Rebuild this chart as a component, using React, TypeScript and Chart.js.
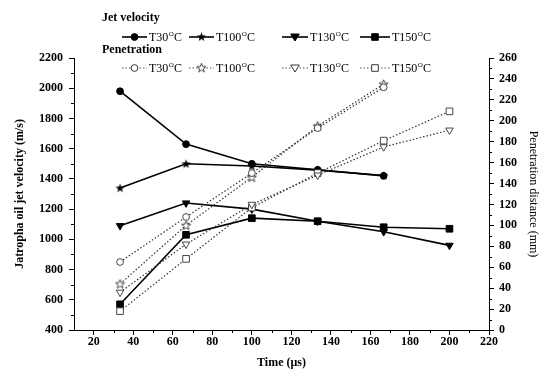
import React, { useEffect, useRef } from "react";
import { Chart, registerables } from "chart.js";

Chart.register(...registerables);

// ---------- data ----------
const times = [33.3, 66.7, 100, 133.3, 166.7, 200];
const seriesLabels = ["T30", "T100", "T130", "T150"];

const velT30 = [1980, 1630, 1500, 1460, 1420, null];
const velT100 = [1340, 1500, 1485, 1458, 1422, null];
const velT130 = [1090, 1240, 1200, 1120, 1050, 960];
const velT150 = [570, 1030, 1140, 1120, 1080, 1070];

const penT30 = [65, 108, 150, 193, 232, null];
const penT100 = [44, 100, 146, 195, 235, null];
const penT130 = [36, 82, 120, 148, 175, 191];
const penT150 = [18, 68, 117, 150, 181, 209];

const xTickValues = [20, 40, 60, 80, 100, 120, 140, 160, 180, 200, 220];
const leftTickValues = [400, 600, 800, 1000, 1200, 1400, 1600, 1800, 2000, 2200];
const rightTickValues = [0, 20, 40, 60, 80, 100, 120, 140, 160, 180, 200, 220, 240, 260];

const FONT = '"Liberation Serif", "Times New Roman", serif';

type Shape = "circle" | "star" | "triangleDown" | "square";
const shapes: Shape[] = ["circle", "star", "triangleDown", "square"];

function makeStar(filled: boolean): HTMLCanvasElement {
  const c = document.createElement("canvas");
  c.width = 11;
  c.height = 11;
  const g = c.getContext("2d")!;
  const cx = 5.5, cy = 5.8, ro = 4.8, ri = 2.0;
  g.beginPath();
  for (let i = 0; i < 10; i++) {
    const r = i % 2 === 0 ? ro : ri;
    const a = -Math.PI / 2 + (i * Math.PI) / 5;
    const px = cx + r * Math.cos(a);
    const py = cy + r * Math.sin(a);
    if (i === 0) g.moveTo(px, py);
    else g.lineTo(px, py);
  }
  g.closePath();
  if (filled) {
    g.fillStyle = "#000";
    g.fill();
  } else {
    g.fillStyle = "#fff";
    g.fill();
    g.strokeStyle = "#333";
    g.lineWidth = 0.9;
    g.stroke();
  }
  return c;
}

function toPoints(vals: (number | null)[]) {
  const out: { x: number; y: number }[] = [];
  vals.forEach((v, i) => {
    if (v !== null) out.push({ x: times[i], y: v });
  });
  return out;
}

function drawMarker(ctx: CanvasRenderingContext2D, shape: Shape, x: number, y: number, filled: boolean, starImg: HTMLCanvasElement) {
  ctx.save();
  ctx.fillStyle = filled ? "#000" : "#fff";
  ctx.strokeStyle = filled ? "#000" : "#222";
  ctx.lineWidth = filled ? 1 : 0.9;
  ctx.setLineDash([]);
  ctx.beginPath();
  if (shape === "circle") {
    ctx.arc(x, y, 3.4, 0, Math.PI * 2);
  } else if (shape === "square") {
    ctx.rect(x - 3.3, y - 3.3, 6.6, 6.6);
  } else if (shape === "triangleDown") {
    ctx.moveTo(x - 4.3, y - 3);
    ctx.lineTo(x + 4.3, y - 3);
    ctx.lineTo(x, y + 4);
    ctx.closePath();
  } else {
    ctx.drawImage(starImg, x - 5.5, y - 5.8);
    ctx.restore();
    return;
  }
  ctx.fill();
  ctx.stroke();
  ctx.restore();
}

function drawDegreeLabel(ctx: CanvasRenderingContext2D, x: number, y: number, base: string) {
  ctx.save();
  ctx.fillStyle = "#000";
  ctx.textBaseline = "middle";
  ctx.textAlign = "left";
  ctx.font = `12px ${FONT}`;
  ctx.fillText(base, x, y + 1);
  let w = ctx.measureText(base).width;
  ctx.font = `7px ${FONT}`;
  ctx.fillText("O", x + w + 0.5, y - 3);
  w += ctx.measureText("O").width + 0.5;
  ctx.font = `12px ${FONT}`;
  ctx.fillText("C", x + w, y + 1);
  ctx.restore();
}

export default function App() {
  const ref = useRef<HTMLCanvasElement | null>(null);

  useEffect(() => {
    if (!ref.current) return;
    const starFilled = makeStar(true);
    const starOpen = makeStar(false);

    const velSeries = [velT30, velT100, velT130, velT150];
    const penSeries = [penT30, penT100, penT130, penT150];

    const pointStyleFor = (s: Shape, filled: boolean): any =>
      s === "circle" ? "circle" : s === "square" ? "rect" : s === "triangleDown" ? "triangle" : filled ? starFilled : starOpen;
    const radiusFor = (s: Shape) => (s === "circle" ? 3.4 : s === "square" ? 4.7 : s === "triangleDown" ? 4.3 : 5);

    const datasets: any[] = [];
    penSeries.forEach((vals, i) => {
      const s = shapes[i];
      datasets.push({
        label: "Pen " + seriesLabels[i],
        data: toPoints(vals),
        yAxisID: "y1",
        borderColor: "#333",
        borderWidth: 1.2,
        borderDash: [1.5, 2],
        pointStyle: pointStyleFor(s, false),
        pointRotation: s === "triangleDown" ? 180 : 0,
        pointRadius: radiusFor(s),
        pointBackgroundColor: "#fff",
        pointBorderColor: "#333",
        pointBorderWidth: 0.9,
        fill: false,
        tension: 0,
      });
    });
    velSeries.forEach((vals, i) => {
      const s = shapes[i];
      datasets.push({
        label: "Vel " + seriesLabels[i],
        data: toPoints(vals),
        yAxisID: "y",
        borderColor: "#000",
        borderWidth: 1.6,
        pointStyle: pointStyleFor(s, true),
        pointRotation: s === "triangleDown" ? 180 : 0,
        pointRadius: radiusFor(s),
        pointBackgroundColor: "#000",
        pointBorderColor: "#000",
        pointBorderWidth: 1,
        fill: false,
        tension: 0,
      });
    });

    const legendXs = [
      { l0: 122, l1: 147, t: 149 },
      { l0: 189, l1: 214, t: 216 },
      { l0: 282, l1: 308, t: 310 },
      { l0: 360, l1: 390, t: 392 },
    ];

    const customPlugin = {
      id: "custom",
      afterDraw(chart: any) {
        const ctx: CanvasRenderingContext2D = chart.ctx;
        const xs = chart.scales.x;
        const yl = chart.scales.y;
        const yr = chart.scales.y1;
        const area = chart.chartArea;
        ctx.save();
        ctx.strokeStyle = "#000";
        ctx.lineWidth = 1;
        ctx.setLineDash([]);
        ctx.beginPath();
        for (let v = 30; v <= 210; v += 20) {
          const px = Math.round(xs.getPixelForValue(v)) + 0.5;
          ctx.moveTo(px, area.bottom);
          ctx.lineTo(px, area.bottom + 3);
        }
        for (let v = 500; v <= 2100; v += 200) {
          const py = Math.round(yl.getPixelForValue(v)) + 0.5;
          ctx.moveTo(area.left - 3, py);
          ctx.lineTo(area.left, py);
        }
        for (let v = 10; v <= 250; v += 20) {
          const py = Math.round(yr.getPixelForValue(v)) + 0.5;
          ctx.moveTo(area.right, py);
          ctx.lineTo(area.right + 3, py);
        }
        ctx.stroke();

        // legend titles
        ctx.fillStyle = "#000";
        ctx.font = `bold 12px ${FONT}`;
        ctx.textBaseline = "middle";
        ctx.textAlign = "left";
        ctx.fillText("Jet velocity", 102, 18);
        ctx.fillText("Penetration", 102, 50);

        const rows = [
          { y: 37, filled: true },
          { y: 68, filled: false },
        ];
        rows.forEach((row) => {
          legendXs.forEach((p, i) => {
            ctx.save();
            ctx.beginPath();
            if (row.filled) {
              ctx.strokeStyle = "#000";
              ctx.lineWidth = 1.6;
              ctx.setLineDash([]);
            } else {
              ctx.strokeStyle = "#555";
              ctx.lineWidth = 1.1;
              ctx.setLineDash([1.5, 2]);
            }
            ctx.moveTo(p.l0, row.y);
            ctx.lineTo(p.l1, row.y);
            ctx.stroke();
            ctx.restore();
            drawMarker(ctx, shapes[i], (p.l0 + p.l1) / 2, row.y, row.filled, row.filled ? starFilled : starOpen);
            drawDegreeLabel(ctx, p.t, row.y, seriesLabels[i]);
          });
        });
        ctx.restore();
      },
    };

    const tickFont = { family: FONT, size: 12, weight: "bold" as const };
    const titleFont = { family: FONT, size: 12, weight: "bold" as const };
    const plain = (v: any) => String(v);

    const chart = new Chart(ref.current, {
      type: "line",
      data: { datasets },
      options: {
        responsive: false,
        animation: false,
        layout: { padding: { top: 58, left: 0, right: 0, bottom: 0 } },
        plugins: {
          legend: { display: false },
          tooltip: { enabled: false },
        },
        scales: {
          x: {
            type: "linear",
            position: "bottom",
            min: 10,
            max: 220,
            afterBuildTicks: (s: any) => {
              s.ticks = xTickValues.map((v) => ({ value: v }));
            },
            afterFit: (s: any) => {
              s.height = 46;
            },
            border: { display: true, color: "#000", width: 1 },
            grid: { drawOnChartArea: false, drawTicks: true, tickLength: 5, color: "#000", tickColor: "#000" },
            ticks: { font: tickFont, color: "#000", padding: 0, maxRotation: 0, autoSkip: false, callback: plain },
            title: { display: true, text: "Time (\u03bcs)", font: titleFont, color: "#000", padding: { top: 0, bottom: 6 } },
          },
          y: {
            type: "linear",
            position: "left",
            min: 400,
            max: 2200,
            afterBuildTicks: (s: any) => {
              s.ticks = leftTickValues.map((v) => ({ value: v }));
            },
            afterFit: (s: any) => {
              s.width = 74;
            },
            border: { display: true, color: "#000", width: 1 },
            grid: { drawOnChartArea: false, drawTicks: true, tickLength: 5, color: "#000", tickColor: "#000" },
            ticks: { font: tickFont, color: "#000", padding: 6, autoSkip: false, callback: plain },
            title: {
              display: true,
              text: "Jatropha oil jet velocity (m/s)",
              font: titleFont,
              color: "#000",
              padding: { top: 13, bottom: 0 },
            },
          },
          y1: {
            type: "linear",
            position: "right",
            min: 0,
            max: 260,
            afterBuildTicks: (s: any) => {
              s.ticks = rightTickValues.map((v) => ({ value: v }));
            },
            afterFit: (s: any) => {
              s.width = 68;
            },
            border: { display: true, color: "#000", width: 1 },
            grid: { drawOnChartArea: false, drawTicks: true, tickLength: 5, color: "#000", tickColor: "#000" },
            ticks: { font: tickFont, color: "#000", padding: 5, autoSkip: false, callback: plain },
            title: {
              display: true,
              text: "Penetration distance (mm)",
              font: { family: FONT, size: 12, weight: "normal" as const },
              color: "#000",
              padding: { top: 17, bottom: 0 },
            },
          },
        },
      },
      plugins: [customPlugin],
    });

    return () => chart.destroy();
  }, []);

  return (
    <div style={{ position: "fixed", left: 0, top: 0, width: 557, height: 376, background: "#fff" }}>
      <canvas ref={ref} width={557} height={376} style={{ display: "block", width: 557, height: 376 }} />
    </div>
  );
}
